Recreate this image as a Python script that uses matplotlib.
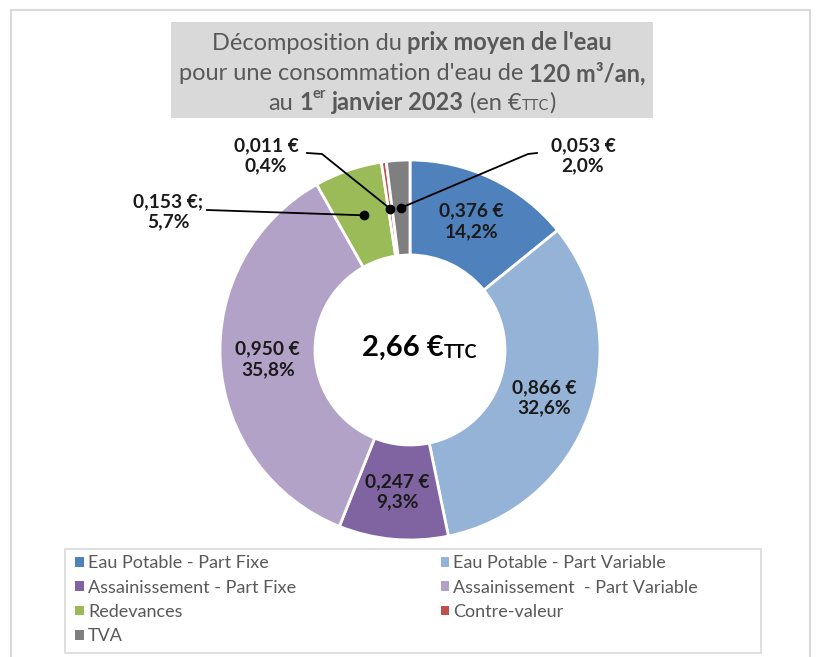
import numpy as np
import matplotlib
matplotlib.use("Agg")
import matplotlib.pyplot as plt
from matplotlib.patches import Patch, Rectangle

plt.rcParams['font.family'] = ['Lato', 'DejaVu Sans']

# Data
categories = ["Eau Potable - Part Fixe", "Eau Potable - Part Variable",
              "Assainissement - Part Fixe", "Assainissement  - Part Variable",
              "Redevances", "Contre-valeur", "TVA"]
values = [0.376, 0.866, 0.247, 0.950, 0.153, 0.011, 0.053]
pct_labels = ["14,2%", "32,6%", "9,3%", "35,8%", "5,7%", "0,4%", "2,0%"]
euro_labels = ["0,376 €", "0,866 €", "0,247 €", "0,950 €", "0,153 €;", "0,011 €", "0,053 €"]
colors = ["#4F81BD", "#95B3D7", "#8064A2", "#B3A2C7", "#9BBB59", "#C0504D", "#7F7F7F"]
total_label = "2,66 €"

W, H = 816, 657
cx, cy, R = 410, 350, 190   # donut centre / radius in pixels

fig = plt.figure(figsize=(W / 100, H / 100), dpi=100)
renderer = fig.canvas.get_renderer()

def fx(px):
    return px / W

def fy(py):
    return 1 - py / H

# outer frame, title box, legend box
fig.patches.append(Rectangle((fx(11), fy(662)), fx(810 - 11), (662 - 10) / H,
                             transform=fig.transFigure, fill=False,
                             edgecolor="#d9d9d9", lw=1.5))
fig.patches.append(Rectangle((fx(171), fy(118)), fx(653 - 171), (118 - 22) / H,
                             transform=fig.transFigure, facecolor="#d9d9d9",
                             edgecolor="none"))
fig.patches.append(Rectangle((fx(65), fy(653)), fx(761 - 65), (653 - 549) / H,
                             transform=fig.transFigure, fill=False,
                             edgecolor="#d9d9d9", lw=1.2))

def text_width(s, size, weight):
    t = fig.text(0, 0, s, fontsize=size, fontweight=weight)
    w = t.get_window_extent(renderer).width
    t.remove()
    return w

def rich_line(xc, yc, runs, color):
    # runs: (text, weight, size, dy in px, space before)
    widths = []
    for txt, wt, sz, dy, sp in runs:
        gap = text_width("x x", sz, wt) - text_width("xx", sz, wt) if sp else 0
        widths.append((gap, text_width(txt, sz, wt)))
    total = sum(g + w for g, w in widths)
    x = xc - total / 2
    for (txt, wt, sz, dy, sp), (g, w) in zip(runs, widths):
        x += g
        fig.text(fx(x), fy(yc - dy), txt, fontsize=sz, fontweight=wt,
                 color=color, ha="left", va="center_baseline")
        x += w

tc = "#595959"
ts = 17
rich_line(412, 41, [("Décomposition du", "normal", ts, 0, False),
                    ("prix moyen de l'eau", "bold", ts, 0, True)], tc)
rich_line(412, 72, [("pour une consommation d'eau de", "normal", ts, 0, False),
                    ("120 m³/an,", "bold", ts, 0, True)], tc)
rich_line(412, 101, [("au", "normal", ts, 0, False),
                     ("1", "bold", ts, 0, True),
                     ("er", "bold", ts * 0.62, 8, False),
                     ("janvier 2023", "bold", ts, 0, True),
                     ("(en €", "normal", ts, 0, True),
                     ("TTC", "normal", ts * 0.62, -4, False),
                     (")", "normal", ts, 0, False)], tc)

# donut
ax = fig.add_axes([fx(cx - R), fy(cy + R), 2 * R / W, 2 * R / H])
wedges, _ = ax.pie(values, colors=colors, startangle=90, counterclock=False,
                   radius=1, wedgeprops=dict(width=0.5, edgecolor="white", linewidth=2))
ax.set_xlim(-1, 1)
ax.set_ylim(-1, 1)
ax.axis("off")

def d(px, py):
    return (px - cx) / R, (cy - py) / R

lab_size = 13.8
for i, w in enumerate(wedges):
    ang = np.deg2rad((w.theta1 + w.theta2) / 2)
    r = 0.75
    if i < 4:
        ax.text(r * np.cos(ang), r * np.sin(ang), euro_labels[i] + "\n" + pct_labels[i],
                ha="center", va="center", fontsize=lab_size, fontweight="bold",
                color="#1a1a1a", linespacing=1.25)

# outside labels with leader lines
outside = {4: (d(168, 212), [d(207, 210)]),
           5: (d(266, 156), [d(307, 153), d(322, 154)]),
           6: (d(583, 156), [d(537, 153), d(528, 154)])}
for i, (tpos, pts) in outside.items():
    w = wedges[i]
    ang = np.deg2rad((w.theta1 + w.theta2) / 2)
    dot = (0.75 * np.cos(ang), 0.75 * np.sin(ang))
    xs = [p[0] for p in pts] + [dot[0]]
    ys = [p[1] for p in pts] + [dot[1]]
    ax.plot(xs, ys, color="black", lw=1.3, clip_on=False)
    ax.plot(dot[0], dot[1], "o", color="black", ms=6, clip_on=False)
    ax.text(tpos[0], tpos[1], euro_labels[i] + "\n" + pct_labels[i],
            ha="center", va="center", fontsize=lab_size, fontweight="bold",
            color="#1a1a1a", linespacing=1.25, clip_on=False)

# centre total
rich_line(420, 345, [(total_label, "bold", 21, 0, False),
                     ("TTC", "bold", 13, -6, False)], "black")

# legend, filled row by row like the original
order = [0, 2, 4, 6, 1, 3, 5]
handles = [Patch(facecolor=colors[i]) for i in order]
labels = [categories[i] for i in order]
leg = fig.legend(handles, labels, ncol=2, loc="upper left",
                 bbox_to_anchor=(fx(70), fy(550)),
                 fontsize=13, frameon=False,
                 handlelength=0.45, handleheight=0.45,
                 handletextpad=0.25, labelspacing=0.46, borderpad=0.3,
                 columnspacing=8.0, borderaxespad=0, labelcolor="#595959")

fig.savefig("out.png", dpi=100)
